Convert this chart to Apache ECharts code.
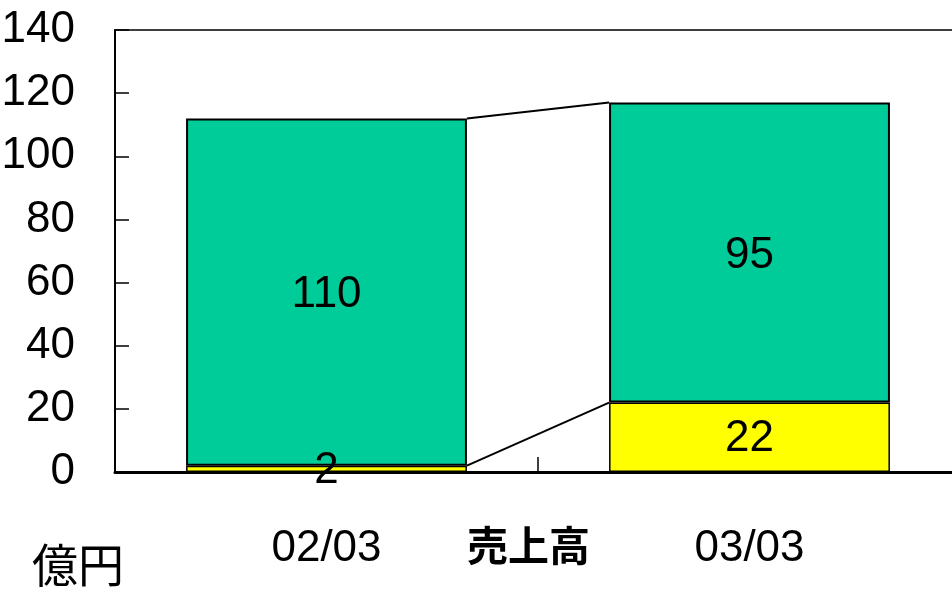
<!DOCTYPE html>
<html>
<head>
<meta charset="utf-8">
<script src="https://cdn.jsdelivr.net/npm/echarts@6/dist/echarts.min.js"></script>
<style>
html,body{margin:0;padding:0;background:#fff;}
#chart{width:952px;height:594px;}
</style>
</head>
<body>
<div id="chart"></div>
<script>
// Data
var categories = ['02/03', '03/03'];
var lowerValues = [2, 22];     // yellow segment
var upperValues = [110, 95];   // green segment
var yTicks = [0, 20, 40, 60, 80, 100, 120, 140];
var axisTitle = '売上高';
var unitLabel = '億円';

var BAR_RATIO = 0.664;
var numFont = "'Liberation Sans', Arial, sans-serif";
var numSize = 44;
var cjkFont = "'Noto Sans CJK JP', sans-serif";

var totals = lowerValues.map(function (v, i) { return v + upperValues[i]; });
var connectors = [];
for (var i = 0; i < categories.length - 1; i++) {
  connectors.push([i, totals[i], i + 1, totals[i + 1]]);
  connectors.push([i, lowerValues[i], i + 1, lowerValues[i + 1]]);
}

var chart = echarts.init(document.getElementById('chart'));
chart.setOption({
  animation: false,
  backgroundColor: '#fff',
  grid: {
    left: 115, top: 30, right: -9, bottom: 122,
    containLabel: false, outerBoundsMode: 'none',
    show: true, borderColor: '#000', borderWidth: 1.5, backgroundColor: 'transparent'
  },
  xAxis: {
    type: 'category',
    data: categories,
    axisLine: { lineStyle: { color: '#000', width: 3 } },
    axisTick: { show: true, inside: true, length: 15, lineStyle: { color: '#000', width: 1.5 } },
    axisLabel: {
      color: '#000', fontFamily: numFont, fontSize: numSize,
      margin: 77, verticalAlign: 'middle'
    }
  },
  yAxis: {
    type: 'value',
    min: yTicks[0], max: yTicks[yTicks.length - 1], interval: 20,
    axisLine: { show: true, lineStyle: { color: '#000', width: 2 } },
    axisTick: { show: true, inside: true, length: 14, lineStyle: { color: '#000', width: 1.5 } },
    splitLine: { show: false },
    axisLabel: {
      color: '#000', fontFamily: numFont, fontSize: numSize, margin: 40
    }
  },
  series: [
    {
      type: 'bar', stack: 'sales', data: lowerValues,
      barWidth: (BAR_RATIO * 100) + '%',
      itemStyle: { color: '#FFFF00', borderColor: '#000', borderWidth: 1.5 },
      label: { show: true, position: 'inside', color: '#000', fontFamily: numFont, fontSize: numSize, offset: [0, 2] },
      z: 3
    },
    {
      type: 'bar', stack: 'sales', data: upperValues,
      barWidth: (BAR_RATIO * 100) + '%',
      itemStyle: { color: '#00CC99', borderColor: '#000', borderWidth: 2 },
      label: { show: true, position: 'inside', color: '#000', fontFamily: numFont, fontSize: numSize, offset: [0, 3] },
      z: 2
    },
    {
      type: 'custom',
      data: connectors,
      encode: { x: [0, 2], y: [1, 3] },
      renderItem: function (params, api) {
        var half = api.size([1, 0])[0] * BAR_RATIO / 2;
        var p1 = api.coord([api.value(0), api.value(1)]);
        var p2 = api.coord([api.value(2), api.value(3)]);
        return {
          type: 'line',
          shape: { x1: p1[0] + half, y1: p1[1], x2: p2[0] - half, y2: p2[1] },
          style: { stroke: '#000', lineWidth: 2 }
        };
      },
      z: 1,
      silent: true
    }
  ],
  graphic: [
    {
      type: 'text', left: 467, top: 525,
      style: { text: axisTitle, fill: '#000', font: 'bold 41px ' + cjkFont }
    },
    {
      type: 'text', left: 32, top: 542,
      style: { text: unitLabel, fill: '#000', font: '46px ' + cjkFont }
    }
  ]
});
</script>
</body>
</html>
